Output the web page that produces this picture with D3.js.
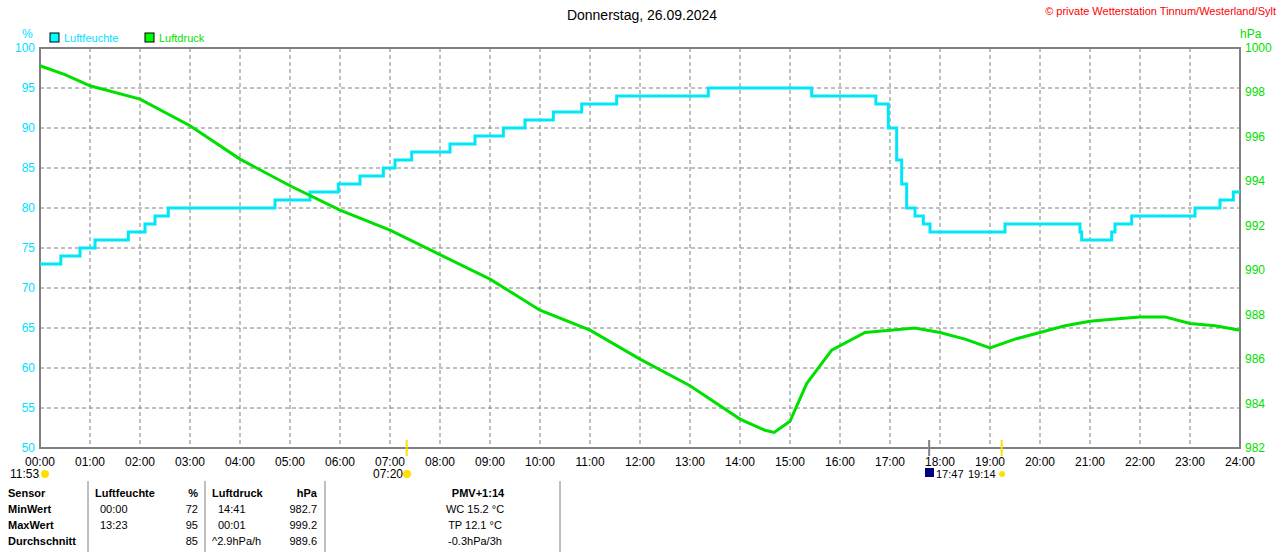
<!DOCTYPE html>
<html><head><meta charset="utf-8">
<script src="https://cdn.jsdelivr.net/npm/d3@7"></script>
<style>body{margin:0;background:#fff}text{font-family:"Liberation Sans",Arial,sans-serif;font-size:12px}</style>
</head><body>
<script>
// humidity steps: [time, %]
const humTimes = ["00:00","00:25","00:48","01:06","01:46","02:06","02:18","02:34","04:42","05:24","05:58","06:24","06:52","07:06","07:26","08:12","08:42","09:16","09:42","10:16","10:50","11:32","13:22","15:26","16:43","16:58","17:08","17:14","17:20","17:30","17:40","17:48","19:18","20:48","20:50","21:26","21:30","21:50","23:06","23:36","23:52","24:00"];
const humValues = [73,74,75,76,77,78,79,80,81,82,83,84,85,86,87,88,89,90,91,92,93,94,95,94,93,90,86,83,80,79,78,77,78,77,76,77,78,79,80,81,82,82];
// pressure [time, hPa]
const presTimes = ["00:00","00:30","01:00","02:00","03:00","04:00","05:00","06:00","07:00","08:00","09:00","10:00","11:00","12:00","13:00","14:00","14:30","14:41","15:00","15:20","15:50","16:30","17:00","17:30","18:00","18:30","19:00","19:30","20:00","20:30","21:00","21:30","22:00","22:30","23:00","23:30","24:00"];
const presValues = [999.2,998.8,998.3,997.7,996.5,995.0,993.8,992.7,991.8,990.7,989.6,988.2,987.3,986.0,984.8,983.3,982.8,982.7,983.2,984.9,986.4,987.2,987.3,987.4,987.2,986.9,986.5,986.9,987.2,987.5,987.7,987.8,987.9,987.9,987.6,987.5,987.3];
const hourLabels = d3.range(0,25).map(h => String(h).padStart(2,"0")+":00");

const W=1280,H=552, x0=40,x1=1240,y0=48,y1=448;
const toH = t => { const [h,m]=t.split(":").map(Number); return h+m/60; };
const x = d3.scaleLinear().domain([0,24]).range([x0,x1]);
const yH = d3.scaleLinear().domain([50,100]).range([y1,y0]);
const yP = d3.scaleLinear().domain([982,1000]).range([y1,y0]);

const svg = d3.select("body").append("svg").attr("width",W).attr("height",H);

// grid
const g = svg.append("g");
g.selectAll(".vg").data(d3.range(1,24)).join("line")
  .attr("x1",d=>x(d)).attr("x2",d=>x(d)).attr("y1",y0).attr("y2",y1)
  .attr("stroke","#808080").attr("stroke-dasharray","4,3");
g.selectAll(".hg").data(d3.range(55,100,5)).join("line")
  .attr("x1",x0).attr("x2",x1).attr("y1",d=>yH(d)).attr("y2",d=>yH(d))
  .attr("stroke","#808080").attr("stroke-dasharray","4,3");
svg.append("rect").attr("x",x0).attr("y",y0).attr("width",x1-x0).attr("height",y1-y0)
  .attr("fill","none").attr("stroke","#808080").attr("stroke-width",2);

// axis labels
svg.selectAll(".lt").data(d3.range(50,101,5)).join("text")
  .attr("x",35).attr("y",d=>yH(d)+4).attr("text-anchor","end").attr("fill","#00e0ff").text(d=>d);
svg.selectAll(".rt").data(d3.range(982,1001,2)).join("text")
  .attr("x",1245).attr("y",d=>yP(d)+4).attr("fill","#00e000").text(d=>d);
svg.selectAll(".xt").data(hourLabels).join("text")
  .attr("x",(d,i)=>x(i)).attr("y",466).attr("text-anchor","middle").attr("fill","#000").text(d=>d);
svg.append("text").attr("x",22).attr("y",38).attr("fill","#00e0ff").text("%");
svg.append("text").attr("x",1240).attr("y",38).attr("fill","#00e000").text("hPa");

// title and legend
svg.append("text").attr("x",642).attr("y",20).attr("text-anchor","middle").style("font-size","14px").text("Donnerstag, 26.09.2024");
svg.append("text").attr("x",1276).attr("y",15).attr("text-anchor","end").attr("fill","#ff0000").style("font-size","11px").text("© private Wetterstation Tinnum/Westerland/Sylt");
svg.append("rect").attr("x",50).attr("y",33).attr("width",9).attr("height",9).attr("fill","#00ffff").attr("stroke","#000");
svg.append("text").attr("x",64).attr("y",42).attr("fill","#00e0ff").style("font-size","11px").text("Luftfeuchte");
svg.append("rect").attr("x",145).attr("y",33).attr("width",9).attr("height",9).attr("fill","#00ff00").attr("stroke","#000");
svg.append("text").attr("x",159).attr("y",42).attr("fill","#00e000").style("font-size","11px").text("Luftdruck");

// lines
svg.append("path").datum(humTimes.map((t,i)=>[toH(t),humValues[i]]))
  .attr("fill","none").attr("stroke","#00e8f8").attr("stroke-width",3)
  .attr("d",d3.line().curve(d3.curveStepAfter).x(d=>x(d[0])).y(d=>yH(d[1])));
svg.append("path").datum(presTimes.map((t,i)=>[toH(t),presValues[i]]))
  .attr("fill","none").attr("stroke","#00e000").attr("stroke-width",3)
  .attr("d",d3.line().x(d=>x(d[0])).y(d=>yP(d[1])));

// sun / moon markers
const marks = [{t:"07:20",c:"#ffe000"},{t:"17:47",c:"#808080"},{t:"19:14",c:"#ffe000"}];
svg.selectAll(".mk").data(marks).join("line")
  .attr("x1",d=>x(toH(d.t))).attr("x2",d=>x(toH(d.t))).attr("y1",y1-8).attr("y2",y1+8)
  .attr("stroke",d=>d.c).attr("stroke-width",2);
svg.append("text").attr("x",10).attr("y",478).text("11:53");
svg.append("circle").attr("cx",45).attr("cy",474).attr("r",4).attr("fill","#ffe000");
svg.append("text").attr("x",373).attr("y",478).text("07:20");
svg.append("circle").attr("cx",407).attr("cy",474).attr("r",4).attr("fill","#ffe000");
svg.append("rect").attr("x",925).attr("y",468).attr("width",9).attr("height",9).attr("fill","#000080");
svg.append("text").attr("x",936).attr("y",478).style("font-size","11px").text("17:47");
svg.append("text").attr("x",968).attr("y",478).style("font-size","11px").text("19:14");
svg.append("circle").attr("cx",1002).attr("cy",474).attr("r",3).attr("fill","#ffe000");

// table
[88,205,325,560].forEach(v=>svg.append("line").attr("x1",v).attr("x2",v).attr("y1",481).attr("y2",552).attr("stroke","#808080"));
const rows = [
  [["Sensor",8,"start",1],["Luftfeuchte",95,"start",1],["%",198,"end",1],["Luftdruck",212,"start",1],["hPa",317,"end",1],["PMV+1:14",478,"middle",1]],
  [["MinWert",8,"start",1],["00:00",100,"start"],["72",198,"end"],["14:41",218,"start"],["982.7",317,"end"],["WC 15.2 °C",475,"middle"]],
  [["MaxWert",8,"start",1],["13:23",100,"start"],["95",198,"end"],["00:01",218,"start"],["999.2",317,"end"],["TP 12.1 °C",475,"middle"]],
  [["Durchschnitt",8,"start",1],["85",198,"end"],["^2.9hPa/h",212,"start"],["989.6",317,"end"],["-0.3hPa/3h",475,"middle"]]
];
rows.forEach((r,i)=>r.forEach(c=>svg.append("text").attr("x",c[1]).attr("y",497+i*16)
  .attr("text-anchor",c[2]).style("font-weight",c[3]?"bold":"normal").style("font-size","11px").text(c[0])));
</script>
</body></html>
